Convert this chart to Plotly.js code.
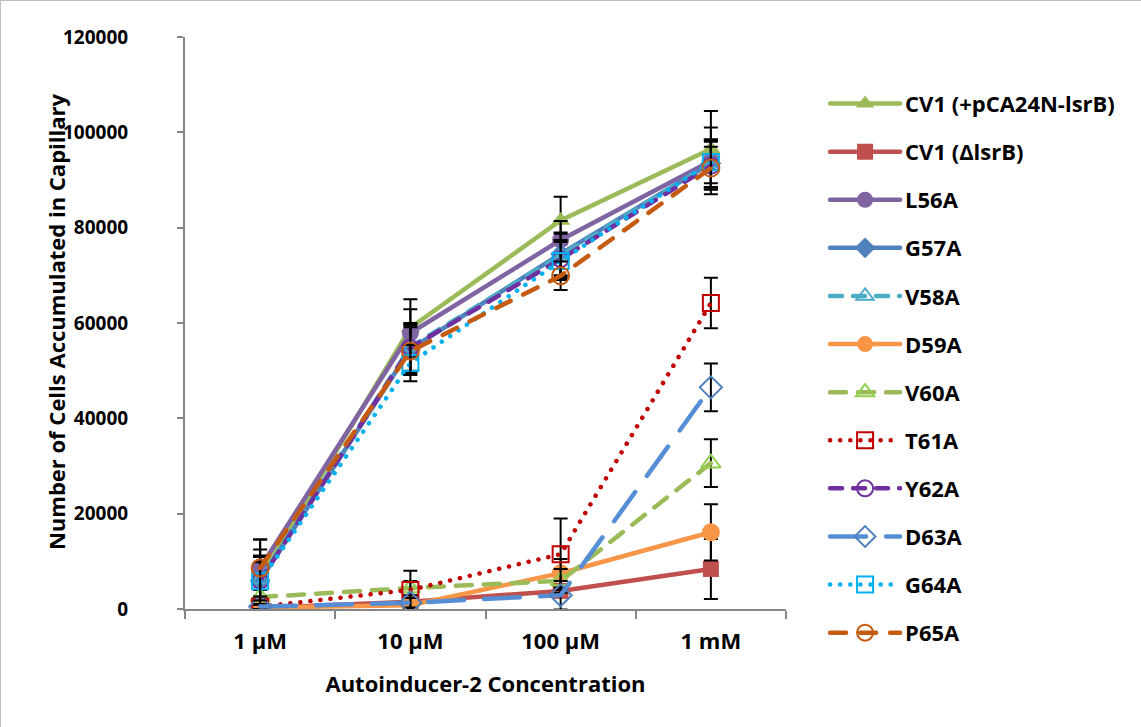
<!DOCTYPE html>
<html>
<head>
<meta charset="utf-8">
<script src="https://cdn.plot.ly/plotly-3.0.1.min.js"></script>
<style>
  html, body { margin: 0; padding: 0; background: #fff; }
  #chart { width: 1141px; height: 727px; box-sizing: border-box; border: 1px solid #bfbfbf; }
  /* Rounded ends give the dotted series their round dots */
  #chart .scatterlayer .js-line, #chart .legend .js-line { stroke-linecap: round; }
</style>
</head>
<body>
<div id="chart"></div>
<script>
// Autoinducer-2 concentrations tested
const concentrations = ['1 µM', '10 µM', '100 µM', '1 mM'];

// Cells accumulated in the capillary for each strain (mean) and its error
const cv1Plus   = [6500, 59000, 81500, 96500];
const cv1Plus_err = [6000, 6000, 5000, 8000];
const cv1Delta  = [200, 1500, 3800, 8400];
const cv1Delta_err = [300, 800, 1200, 6300];
const l56a      = [8600, 57900, 77400, 94000];
const l56a_err  = [6000, 5000, 4000, 7000];
const g57a      = [6000, 54500, 74500, 93500];
const g57a_err  = [5000, 5000, 4500, 5000];
const v58a      = [6200, 55000, 74200, 93500];
const v58a_err  = [5000, 5000, 4500, 5000];
const d59a      = [300, 800, 7500, 16100];
const d59a_err  = [500, 600, 3000, 5900];
const v60a      = [2500, 4400, 5900, 30600];
const v60a_err  = [1500, 1500, 2500, 5000];
const t61a      = [500, 4000, 11500, 64200];
const t61a_err  = [500, 4000, 7500, 5300];
const y62a      = [5900, 54800, 73400, 93000];
const y62a_err  = [5000, 5000, 4000, 5000];
const d63a      = [500, 1300, 2900, 46500];
const d63a_err  = [500, 1000, 3000, 5000];
const g64a      = [5800, 51600, 73000, 93800];
const g64a_err  = [4000, 3800, 4000, 4500];
const p65a      = [8600, 54100, 69900, 92500];
const p65a_err  = [6000, 5000, 3000, 4500];

const yTitle = 'Number of Cells Accumulated in Capillary';
const xTitle = 'Autoinducer-2 Concentration';

function series(name, y, err, color, dash, symbol, markerColor, size, open) {
  return {
    type: 'scatter', mode: 'lines+markers', name: name, legendgroup: name,
    x: concentrations, y: y,
    line: { color: color, width: 4.5, dash: dash },
    // open symbols take their outline colour from marker.color
    marker: open
      ? { symbol: symbol, size: size, color: markerColor, line: { color: markerColor, width: 2 } }
      : { symbol: symbol, size: size, color: markerColor, line: { width: 0 } },
    error_y: { type: 'data', array: err, visible: true, color: '#000', thickness: 2, width: 7 }
  };
}

const traces = [
  series('CV1 (+pCA24N-lsrB)', cv1Plus, cv1Plus_err, '#9BBB59', 'solid', 'triangle-up', '#9BBB59', 17, false),
  series('CV1 (ΔlsrB)', cv1Delta, cv1Delta_err, '#C0504D', 'solid', 'square', '#C0504D', 16, false),
  series('L56A', l56a, l56a_err, '#8064A2', 'solid', 'circle', '#8064A2', 17, false),
  series('G57A', g57a, g57a_err, '#4F81BD', 'solid', 'diamond', '#4F81BD', 16, false),
  series('V58A', v58a, v58a_err, '#4BACC6', '12px,11px', 'triangle-up-open', '#4BACC6', 15, true),
  series('D59A', d59a, d59a_err, '#F79646', 'solid', 'circle', '#F79646', 18, false),
  series('V60A', v60a, v60a_err, '#9BBB59', '16px,12px', 'triangle-up-open', '#92D050', 17, true),
  series('T61A', t61a, t61a_err, '#C00000', '0.1px,10px', 'square-open', '#C00000', 16, true),
  series('Y62A', y62a, y62a_err, '#7030A0', '12px,11px', 'circle-open', '#7030A0', 16, true),
  series('D63A', d63a, d63a_err, '#558ED5', '36px,20px', 'diamond-open', '#4F81BD', 17, true),
  series('G64A', g64a, g64a_err, '#00B0F0', '0.1px,10px', 'square-open', '#00B0F0', 16, true),
  series('P65A', p65a, p65a_err, '#C55A11', '16px,14px', 'circle-open', '#C55A11', 17, true)
];

const fontFamily = '"Open Sans", Lato, sans-serif';

const layout = {
  width: 1141, height: 727,
  margin: { l: 184, r: 356, t: 36, b: 119, pad: 0 },
  paper_bgcolor: '#fff', plot_bgcolor: '#fff',
  font: { family: fontFamily, size: 19, color: '#000', weight: 'bold' },
  showlegend: true,
  legend: {
    x: 1.065, xanchor: 'left', y: 0.92, yanchor: 'top',
    traceorder: 'grouped', tracegroupgap: 16.5, itemwidth: 70,
    font: { family: fontFamily, size: 22, color: '#000', weight: 'bold' },
    bgcolor: 'rgba(0,0,0,0)'
  },
  xaxis: {
    type: 'category', range: [-0.5, 3.5],
    showline: true, linecolor: '#868686', linewidth: 2,
    ticks: 'outside', tickson: 'boundaries', ticklen: 8, tickcolor: '#868686', tickwidth: 2,
    showgrid: false, zeroline: false,
    tickfont: { family: fontFamily, size: 22, weight: 'bold' },
    ticklabelstandoff: 12,
    title: { text: xTitle, standoff: 22, font: { family: fontFamily, size: 22, weight: 'bold' } }
  },
  yaxis: {
    range: [0, 120000], dtick: 20000, tickformat: 'd',
    showline: true, linecolor: '#868686', linewidth: 2,
    ticks: 'outside', ticklen: 6, tickcolor: '#868686', tickwidth: 2,
    showgrid: false, zeroline: false,
    tickfont: { family: fontFamily, size: 19, weight: 'bold' },
    ticklabelstandoff: 45
  },
  annotations: [{
    text: yTitle, textangle: -90, showarrow: false,
    xref: 'paper', yref: 'paper', x: (55 - 184) / 600, y: 0.503,
    xanchor: 'center', yanchor: 'middle',
    font: { family: fontFamily, size: 22, weight: 'bold', color: '#000' }
  }]
};

Plotly.newPlot('chart', traces, layout, { displayModeBar: false, staticPlot: true });
</script>
</body>
</html>
